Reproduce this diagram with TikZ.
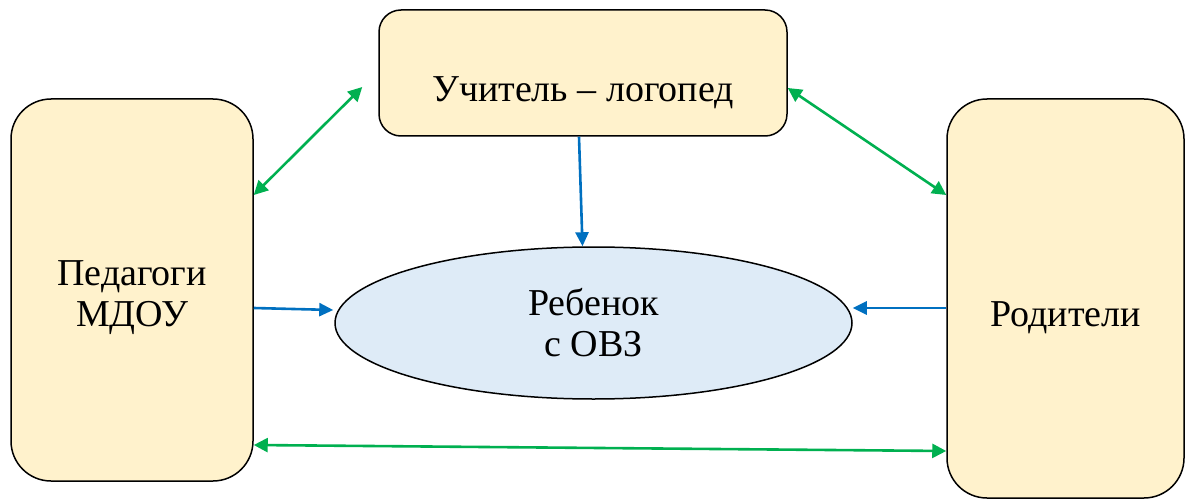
\documentclass[tikz,border=0pt]{standalone}
\usepackage{fontspec}
\setmainfont{Liberation Serif}
\usetikzlibrary{arrows.meta, shapes.geometric}
\definecolor{boxfill}{HTML}{FFF2CC}
\definecolor{kidfill}{HTML}{DEEBF7}
\definecolor{linkgreen}{HTML}{00B050}
\definecolor{linkblue}{HTML}{0070C0}
\newcommand{\lowered}[2]{\raisebox{-#1}[\height][\depth]{#2}}
\begin{document}
\begin{tikzpicture}[x=1pt, y=-1pt,
    box/.style={draw, line width=1.5pt, fill=boxfill, rounded corners=40pt, align=center, inner sep=0pt},
    kid/.style={draw, line width=1.5pt, fill=kidfill, ellipse, align=center, inner sep=0pt, minimum width=517pt, minimum height=152pt},
    both/.style={linkgreen, line width=2.6pt, {Triangle[length=14pt,width=14pt]}-{Triangle[length=14pt,width=14pt]}},
    toward/.style={linkblue, line width=2.6pt, -{Triangle[length=14pt,width=13pt]}},
    font=\rmfamily\fontsize{38}{44}\selectfont]
            \useasboundingbox (0,0) rectangle (1186,500);
            \node[box, rounded corners=22pt, minimum width=408pt, minimum height=126pt] (logoped) at (583,73) {\lowered{20pt}{Учитель – логопед}};
            \node[box, minimum width=242pt, minimum height=382pt] (pedagog) at (132,290) {\lowered{7pt}{\begin{tabular}{c}Педагоги\\[-3pt]МДОУ\end{tabular}}};
            \node[box, minimum width=237pt, minimum height=399pt] (parents) at (1065.5,298.5) {\lowered{19pt}{Родители}};
            \node[kid] (child) at (593.5,323) {Ребенок\\[-3pt]с ОВЗ};
            \draw[both] ([yshift=95pt]pedagog.east) -- ([xshift=-16pt,yshift=-14pt]logoped.west);
            \draw[both] ([yshift=-15pt]logoped.east) -- ([yshift=103.5pt]parents.west);
            \draw[both] ([yshift=-155pt]pedagog.east) -- ([yshift=-152.5pt]parents.west);
            \draw[toward] ([xshift=-4pt]logoped.south) -- ([xshift=-11pt]child.north);
            \draw[toward] ([yshift=-18pt]pedagog.east) -- ([xshift=-1pt,yshift=13pt]child.west);
            \draw[toward] ([yshift=-9.5pt]parents.west) -- ([yshift=15pt]child.east);
        \end{tikzpicture}
\end{document}
